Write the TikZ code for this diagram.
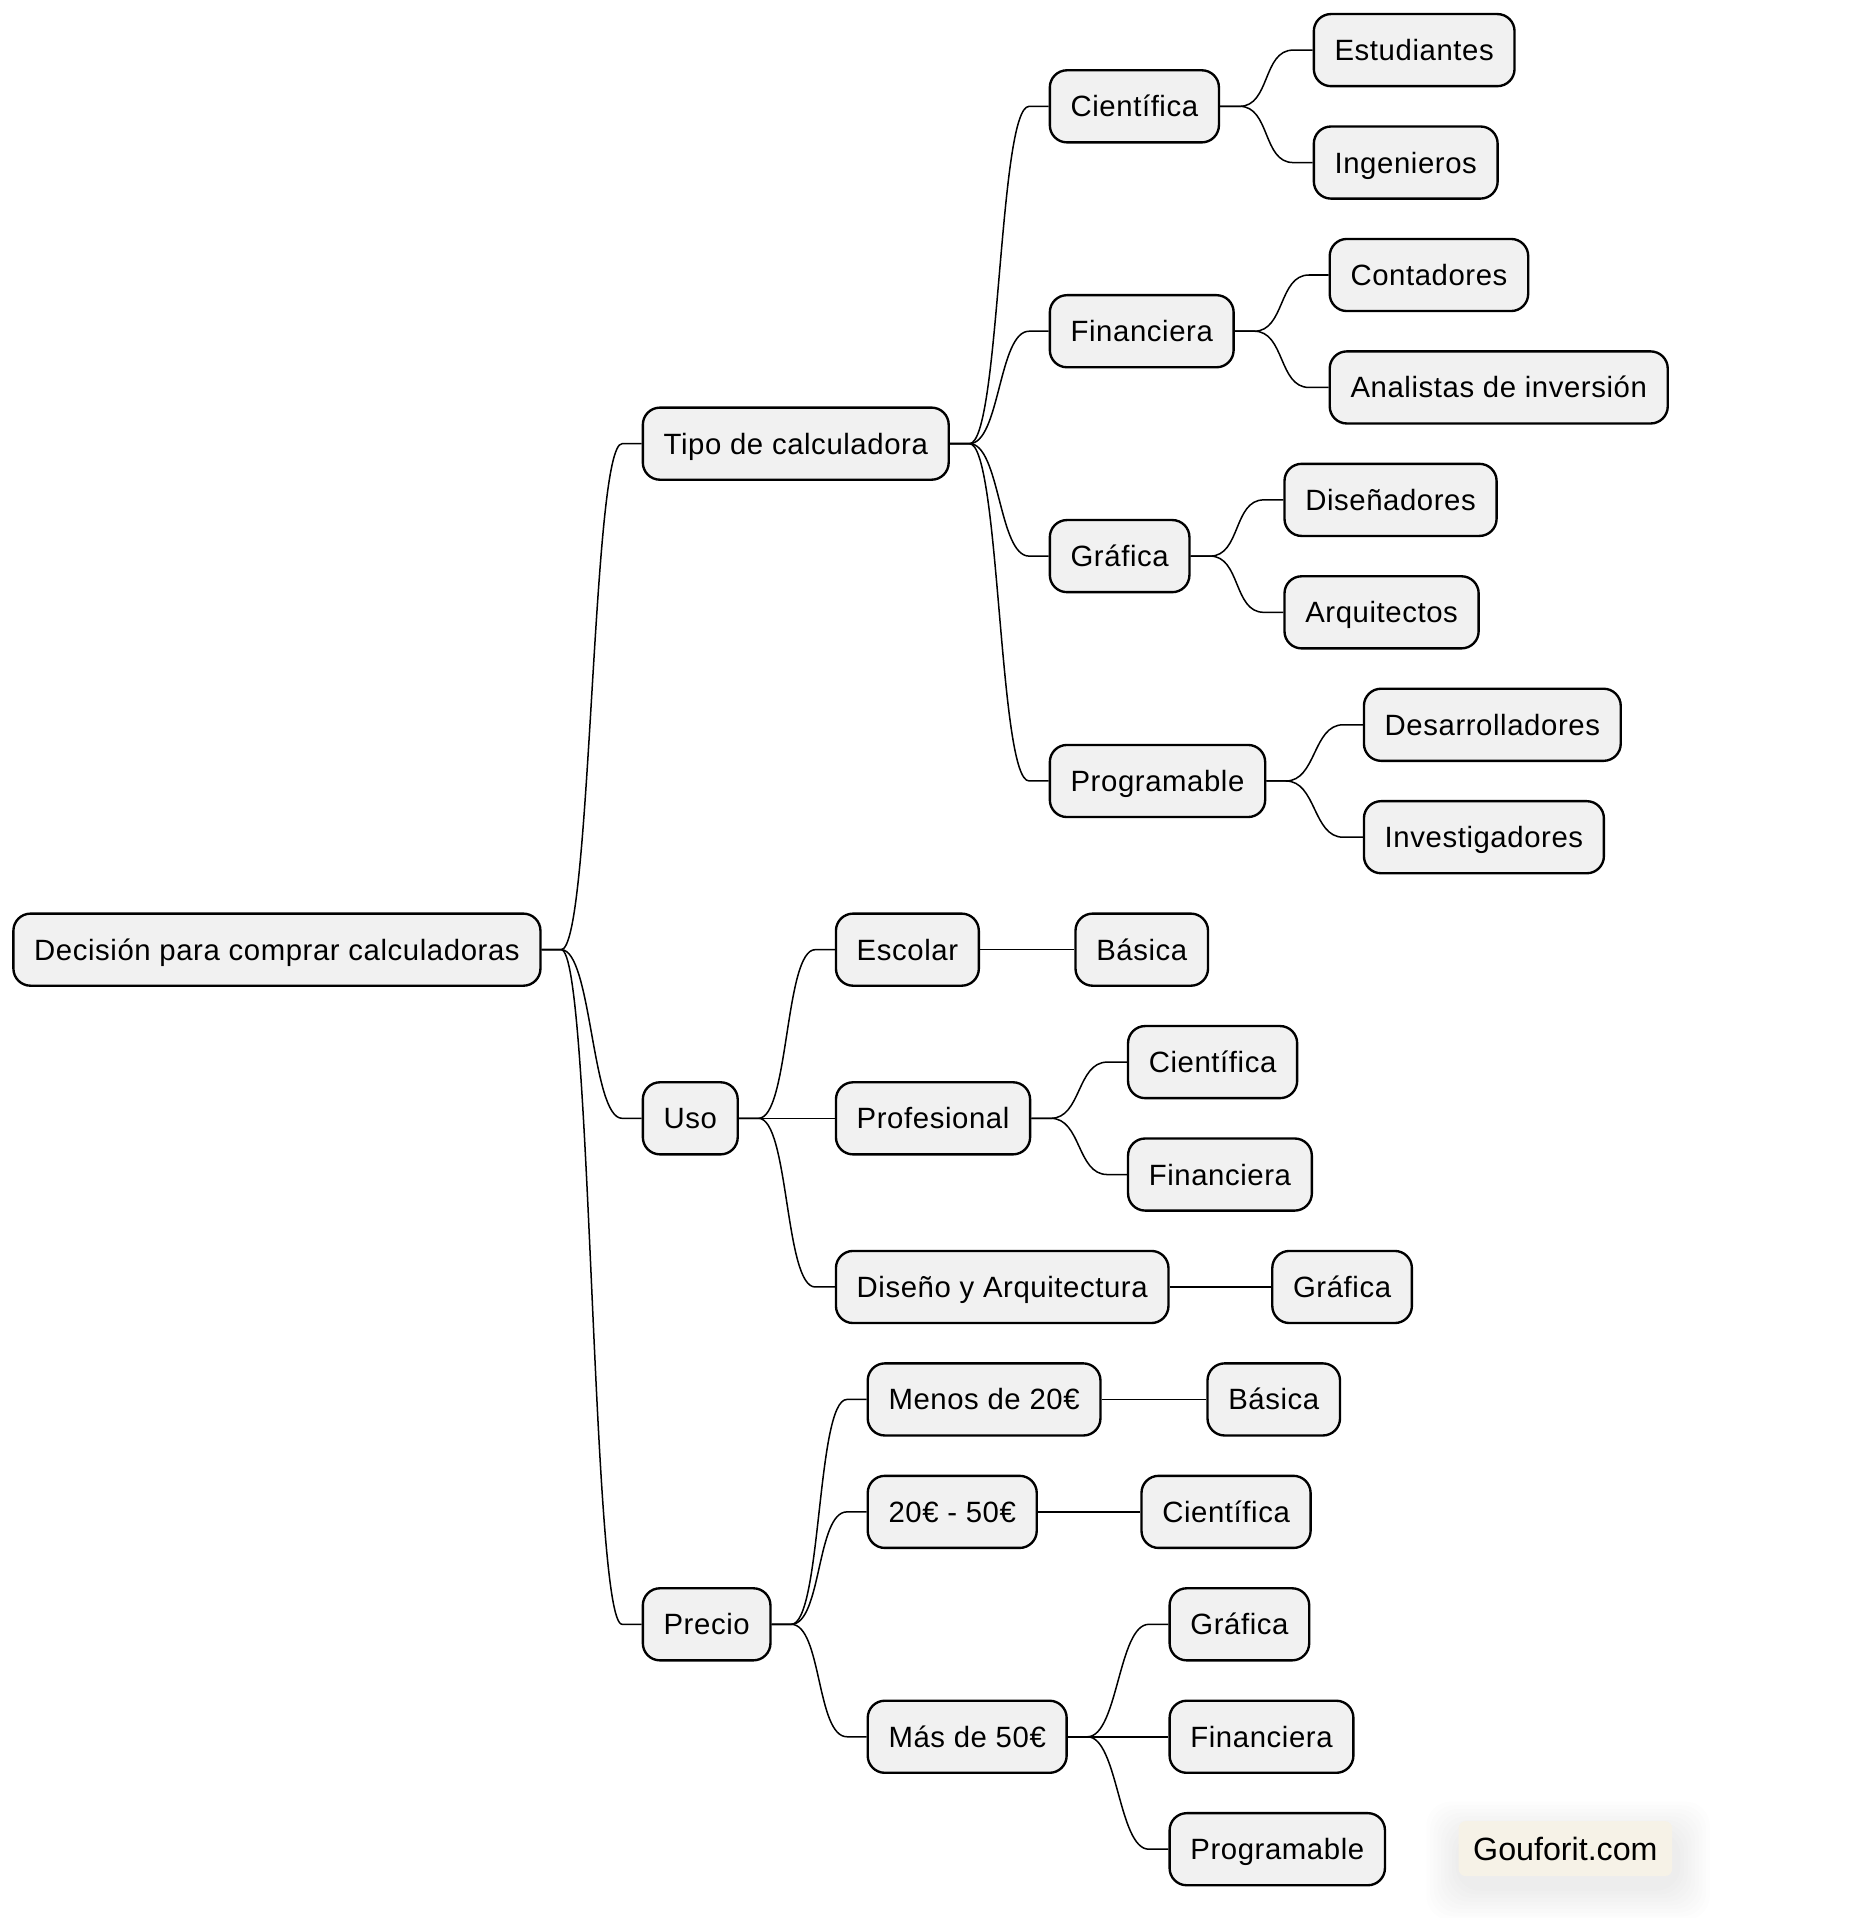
\documentclass[tikz,border=0pt]{standalone}
\usepackage{fontspec}
\setmainfont{Liberation Sans}[LetterSpace=2]
\newfontfamily\markfont{Liberation Sans}
\usetikzlibrary{calc}
\definecolor{boxgray}{RGB}{241,241,241}
\definecolor{markcream}{RGB}{246,242,231}
\tikzset{
idea/.style={draw, line width=1.1pt, fill=boxgray, rounded corners=0.28cm, anchor=west, minimum height=1.18cm, inner xsep=0.34cm, text height=9.8pt, text depth=0pt, font=\fontsize{13.66}{16}\selectfont}, % every box of the map
branch/.style={line width=0.7pt, to path={-- ++(16,0) .. controls +(25,0) and +(-25,0) .. ($(\tikztotarget)+(-16,0)$) -- (\tikztotarget)}}, % stub, curve, stub
site/.style={fill=markcream, rounded corners=0.12cm, anchor=west, minimum height=0.9cm, inner xsep=0.24cm, font=\markfont\fontsize{15}{18}\selectfont}, % the watermark
}
\begin{document}
\begin{tikzpicture}[x=0.02cm, y=-0.02cm]
\useasboundingbox (0,0) rectangle (1530,1569.3);

% root and first level
\node[idea] (root) at (10,777) {Decisión para comprar calculadoras};
\node[idea] (tipo) at (525,363) {Tipo de calculadora};
\node[idea] (uso) at (525,915) {Uso};
\node[idea] (precio) at (525,1329) {Precio};

% types of calculator
\node[idea] (cien) at (858,87) {Científica};
\node[idea] (fin) at (858,271) {Financiera};
\node[idea] (graf) at (858,455) {Gráfica};
\node[idea] (prog) at (858,639) {Programable};
\node[idea] (estud) at (1074,41) {Estudiantes};
\node[idea] (ingen) at (1074,133) {Ingenieros};
\node[idea] (conta) at (1087,225) {Contadores};
\node[idea] (anali) at (1087,317) {Analistas de inversión};
\node[idea] (disen) at (1050,409) {Diseñadores};
\node[idea] (arqui) at (1050,501) {Arquitectos};
\node[idea] (desar) at (1115,593) {Desarrolladores};
\node[idea] (inves) at (1115,685) {Investigadores};

% use
\node[idea] (escolar) at (683,777) {Escolar};
\node[idea] (profe) at (683,915) {Profesional};
\node[idea] (dyarq) at (683,1053) {Diseño y Arquitectura};
\node[idea] (basU) at (879,777) {Básica};
\node[idea] (cienU) at (922,869) {Científica};
\node[idea] (finU) at (922,961) {Financiera};
\node[idea] (grafU) at (1040,1053) {Gráfica};

% price
\node[idea] (menos) at (709,1145) {Menos de 20€};
\node[idea] (medio) at (709,1237) {20€ - 50€};
\node[idea] (mas) at (709,1421) {Más de 50€};
\node[idea] (basP) at (987,1145) {Básica};
\node[idea] (cienP) at (933,1237) {Científica};
\node[idea] (grafP) at (956,1329) {Gráfica};
\node[idea] (finP) at (956,1421) {Financiera};
\node[idea] (progP) at (956,1513) {Programable};

\draw (root.east) edge[branch] (tipo.west)
 (root.east) edge[branch] (uso.west)
 (root.east) edge[branch] (precio.west)
 (tipo.east) edge[branch] (cien.west)
 (tipo.east) edge[branch] (fin.west)
 (tipo.east) edge[branch] (graf.west)
 (tipo.east) edge[branch] (prog.west)
 (cien.east) edge[branch] (estud.west)
 (cien.east) edge[branch] (ingen.west)
 (fin.east) edge[branch] (conta.west)
 (fin.east) edge[branch] (anali.west)
 (graf.east) edge[branch] (disen.west)
 (graf.east) edge[branch] (arqui.west)
 (prog.east) edge[branch] (desar.west)
 (prog.east) edge[branch] (inves.west)
 (uso.east) edge[branch] (escolar.west)
 (uso.east) edge[branch] (profe.west)
 (uso.east) edge[branch] (dyarq.west)
 (escolar.east) edge[branch] (basU.west)
 (profe.east) edge[branch] (cienU.west)
 (profe.east) edge[branch] (finU.west)
 (dyarq.east) edge[branch] (grafU.west)
 (precio.east) edge[branch] (menos.west)
 (precio.east) edge[branch] (medio.west)
 (precio.east) edge[branch] (mas.west)
 (menos.east) edge[branch] (basP.west)
 (medio.east) edge[branch] (cienP.west)
 (mas.east) edge[branch] (grafP.west)
 (mas.east) edge[branch] (finP.west)
 (mas.east) edge[branch] (progP.west);

% watermark with a soft shadow
\foreach \s in {2,5,...,26}
  \fill[black, opacity=0.007, rounded corners=0.4cm] (1193-\s,1500-\s) rectangle (1373+\s,1545+\s);
\node[site] (mark) at (1193,1512.5) {Gouforit.com};
\end{tikzpicture}
\end{document}
